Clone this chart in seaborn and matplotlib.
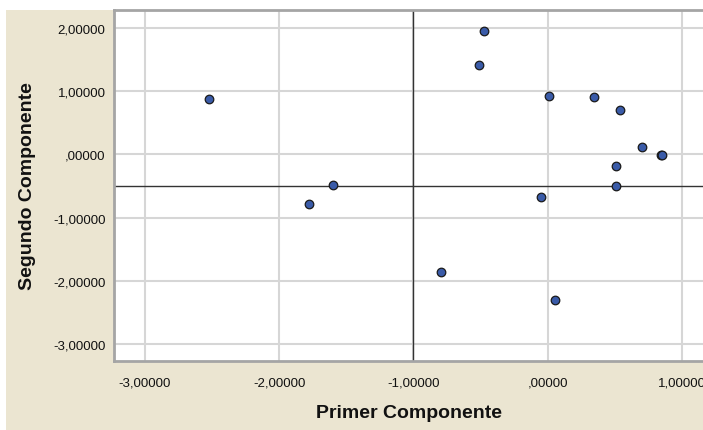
import matplotlib
matplotlib.use("Agg")
import matplotlib.pyplot as plt
import matplotlib.patches as mpatches
from matplotlib.ticker import FuncFormatter, FixedLocator
import seaborn as sns
import pandas as pd

# Data
primer = [-2.526, -1.601, -1.775, -0.476, -0.511, 0.007, 0.344, 0.540,
          0.699, 0.846, 0.848, 0.511, 0.508, -0.047, -0.793, 0.054]
segundo = [0.875, -0.486, -0.780, 1.951, 1.419, 0.918, 0.902, 0.707,
           0.116, -0.015, -0.017, -0.179, -0.501, -0.680, -1.856, -2.299]
x_ticks = [-3, -2, -1, 0, 1]
y_ticks = [-3, -2, -1, 0, 1, 2]
ref_x = -1.0
ref_y = -0.5

df = pd.DataFrame({"Primer Componente": primer, "Segundo Componente": segundo})

sns.set_theme(style="white")
plt.rcParams['font.family'] = ['Liberation Sans', 'DejaVu Sans']

W, H = 703, 431
fig = plt.figure(figsize=(W / 100, H / 100), dpi=100)
fig.patch.set_facecolor("white")
fig.patches.append(mpatches.Rectangle((6 / W, 0), 1 - 6 / W, (H - 11) / H,
                                      transform=fig.transFigure,
                                      facecolor="#EBE5D1", edgecolor="none", zorder=-5))

ax = fig.add_axes([114 / W, (H - 362) / H, 1 - 114 / W, (362 - 11) / H])
ax.set_zorder(1)
ax.set_facecolor("white")

ax.set_xlim(-3.23, 1.156)
ax.set_ylim(-3.27, 2.285)

ax.xaxis.set_major_locator(FixedLocator(x_ticks))
ax.yaxis.set_major_locator(FixedLocator(y_ticks))

def fmt(v, pos):
    s = f"{v:.5f}".replace(".", ",")
    if s.startswith("0,"):
        s = s[1:]
    if s.startswith("-0,"):
        s = "-" + s[2:]
    return s

ax.xaxis.set_major_formatter(FuncFormatter(fmt))
ax.yaxis.set_major_formatter(FuncFormatter(fmt))

ax.grid(True, color="#D6D6D6", linewidth=1.5)
ax.set_axisbelow(True)

ax.axhline(ref_y, color="#333333", linewidth=1.0, zorder=2)
ax.axvline(ref_x, color="#333333", linewidth=1.0, zorder=2)

sns.scatterplot(data=df, x="Primer Componente", y="Segundo Componente", ax=ax,
                s=38, color="#3A5BA8", edgecolor="#1a1a1a", linewidth=0.9, zorder=3)

for side in ["left", "bottom", "top"]:
    ax.spines[side].set_color("#A5A5A5")
    ax.spines[side].set_linewidth(2.0)
ax.spines["right"].set_visible(False)

ax.tick_params(axis="both", length=0, labelsize=9.5, colors="#111111")
ax.tick_params(axis="x", pad=11)
ax.tick_params(axis="y", pad=6)

ax.set_xlabel("Primer Componente", fontsize=14, fontweight="bold", labelpad=11, color="#111111")
ax.set_ylabel("Segundo Componente", fontsize=14, fontweight="bold", labelpad=12, color="#111111")

fig.savefig("out.png", dpi=100)
